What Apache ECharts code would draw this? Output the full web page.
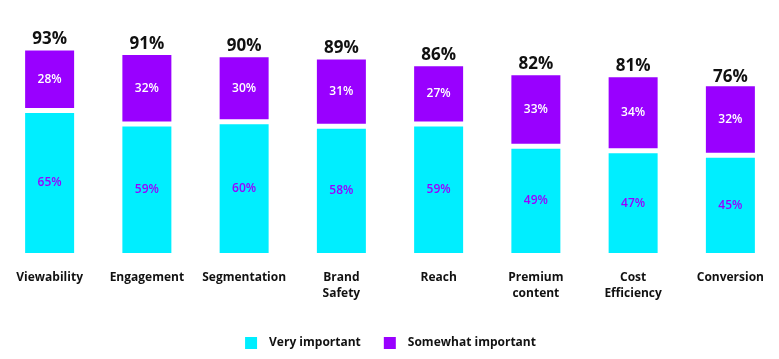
<!DOCTYPE html>
<html>
<head>
<meta charset="utf-8">
<script src="https://cdn.jsdelivr.net/npm/echarts@6/dist/echarts.min.js"></script>
<style>html,body{margin:0;padding:0;background:#fff}#c{width:779px;height:359px}</style>
</head>
<body>
<div id="c"></div>
<script>
const categories = ['Viewability', 'Engagement', 'Segmentation', 'Brand\nSafety', 'Reach', 'Premium\ncontent', 'Cost\nEfficiency', 'Conversion'];
const veryImportant = [65, 59, 60, 58, 59, 49, 47, 45];
const somewhatImportant = [28, 32, 30, 31, 27, 33, 34, 32];
const totals = [93, 91, 90, 89, 86, 82, 81, 76];

const FONT = '"Open Sans", sans-serif';
const CYAN = '#00EEFF';
const PURPLE = '#9900FF';

const chart = echarts.init(document.getElementById('c'));
chart.setOption({
  animation: false,
  backgroundColor: '#fff',
  grid: { left: 1, right: -1, top: 32.5, bottom: 103.5, containLabel: false },
  xAxis: {
    type: 'category',
    data: categories,
    axisLine: { show: false },
    axisTick: { show: false },
    axisLabel: {
      interval: 0,
      margin: 14,
      color: '#111',
      fontFamily: FONT,
      fontWeight: 'bold',
      fontSize: 12,
      lineHeight: 16,
      verticalAlign: 'top'
    }
  },
  yAxis: { type: 'value', min: 0, max: 100, show: false, splitLine: { show: false } },
  legend: {
    bottom: 3,
    left: 'center',
    itemWidth: 14,
    itemHeight: 14,
    itemGap: 21,
    icon: 'rect',
    data: ['Very important', 'Somewhat important'],
    textStyle: { fontFamily: FONT, fontWeight: 'bold', fontSize: 12, color: '#111', padding: [0, 0, 0, 6] }
  },
  series: [
    {
      name: 'Very important',
      type: 'bar',
      stack: 's',
      barWidth: 54,
      data: veryImportant,
      itemStyle: { color: CYAN, borderColor: '#fff', borderWidth: 2.5 },
      label: { show: true, position: 'inside', formatter: '{c}%', color: PURPLE, fontFamily: FONT, fontWeight: 600, fontSize: 12 }
    },
    {
      name: 'Somewhat important',
      type: 'bar',
      stack: 's',
      barWidth: 54,
      data: somewhatImportant,
      itemStyle: { color: PURPLE, borderColor: '#fff', borderWidth: 2.5 },
      label: { show: true, position: 'inside', formatter: '{c}%', color: '#fff', fontFamily: FONT, fontWeight: 600, fontSize: 12 }
    },
    {
      name: 'Total',
      type: 'bar',
      barWidth: 54,
      barGap: '-100%',
      data: totals,
      silent: true,
      z: 1,
      itemStyle: { color: 'rgba(0,0,0,0)' },
      label: { show: true, position: 'top', distance: 0, formatter: '{c}%', color: '#111', fontFamily: FONT, fontWeight: 'bold', fontSize: 17 }
    }
  ]
});
</script>
</body>
</html>
